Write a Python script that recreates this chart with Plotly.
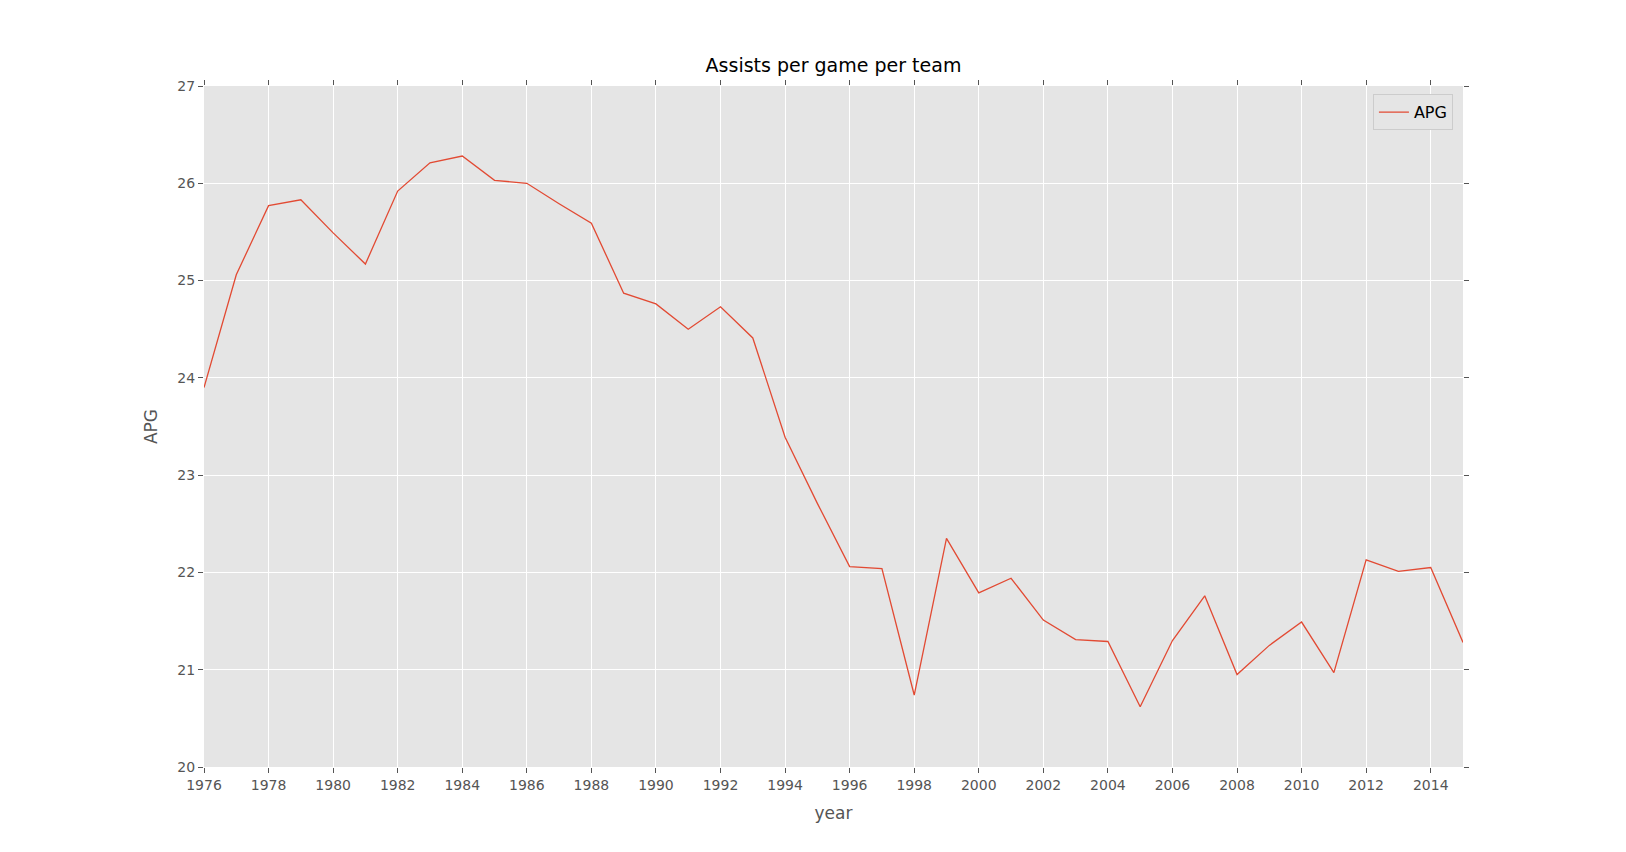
import plotly.graph_objects as go

years = list(range(1976, 2016))
apg = [23.90, 25.06, 25.77, 25.83, 25.49, 25.17, 25.92, 26.21, 26.28, 26.03,
       26.00, 25.79, 25.59, 24.87, 24.76, 24.50, 24.73, 24.41, 23.39, 22.71,
       22.06, 22.04, 20.74, 22.35, 21.79, 21.94, 21.51, 21.31, 21.29, 20.62,
       21.30, 21.76, 20.95, 21.25, 21.49, 20.97, 22.13, 22.01, 22.05, 21.28]

fig = go.Figure()
fig.add_trace(go.Scatter(x=years, y=apg, mode="lines", name="APG",
                         line=dict(color="#E24A33", width=1.3)))

axis_common = dict(showgrid=True, gridcolor="white", gridwidth=1, zeroline=False,
                   ticks="outside", ticklen=5, tickcolor="#555", mirror="ticks",
                   showline=False, tickfont=dict(size=14, color="#555"))

fig.update_layout(
    width=1626, height=852,
    paper_bgcolor="white", plot_bgcolor="#E5E5E5",
    margin=dict(l=196, r=171, t=78, b=93),
    font=dict(family="DejaVu Sans"),
    title=dict(text="Assists per game per team", x=0.5, xanchor="center",
               xref="paper", y=0.925, yanchor="bottom",
               font=dict(size=19, color="black")),
    xaxis=dict(range=[1976, 2015], tickmode="array", tickvals=list(range(1976, 2015, 2)),
               title=dict(text="year", font=dict(size=17, color="#555")), **axis_common),
    yaxis=dict(range=[20, 27], dtick=1,
               title=dict(text="APG", font=dict(size=17, color="#555")), **axis_common),
    showlegend=True,
    legend=dict(x=0.992, y=0.988, xanchor="right", yanchor="top",
                bgcolor="#E5E5E5", bordercolor="#CCCCCC", borderwidth=1,
                font=dict(size=16, color="black")),
)

fig.write_html("out.html")
